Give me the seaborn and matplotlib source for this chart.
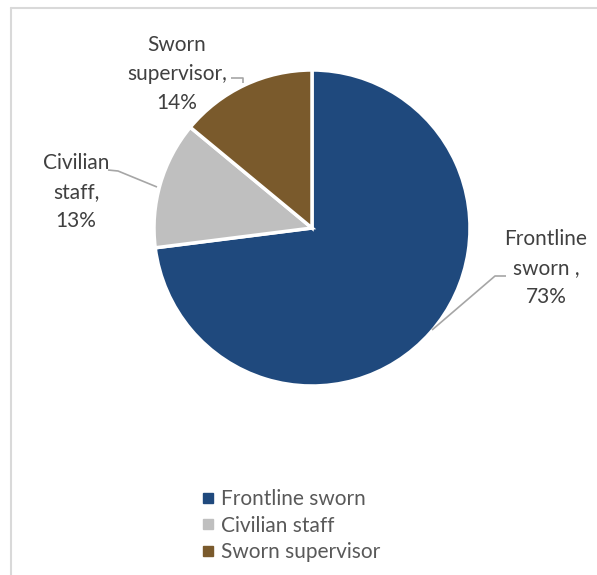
import matplotlib
matplotlib.use("Agg")
import matplotlib.pyplot as plt
from matplotlib.lines import Line2D
import seaborn as sns

categories = ["Frontline sworn", "Civilian staff", "Sworn supervisor"]
values = [73, 13, 14]
label_texts = ["Frontline\nsworn ,\n73%", "Civilian\nstaff,\n13%", "Sworn\nsupervisor,\n14%"]
colors = ["#1F497D", "#BFBFBF", "#7A5A2C"]

sns.set_theme(style="white")
plt.rcParams['font.family'] = ['Lato', 'DejaVu Sans']

W, H = 597, 575
fig = plt.figure(figsize=(W / 100, H / 100), dpi=100)
fig.patch.set_facecolor("white")

# pie geometry (pixels)
cx, cy, R = 312, 228, 158
a, b = 1.8, 1.4
ax = fig.add_axes([(cx - a * R) / W, (H - cy - b * R) / H, 2 * a * R / W, 2 * b * R / H])

wedges, _ = ax.pie(values, colors=sns.color_palette(colors), startangle=90, counterclock=False,
                   radius=1.0, wedgeprops=dict(edgecolor="white", linewidth=2.5))
ax.set_xlim(-a, a)
ax.set_ylim(-b, b)
ax.set_aspect("equal")
ax.axis("off")

def d(px, py):
    return ((px - cx) / R, (cy - py) / R)

txt_color = "#404040"
fs = 15
# label positions (pixel centers)
pos = [(546, 268), (76, 192), (177, 74)]
for t, (px, py) in zip(label_texts, pos):
    x, y = d(px, py)
    ax.text(x, y, t, ha="center", va="center", fontsize=fs, color=txt_color, linespacing=1.55)

lc = "#A6A6A6"
leaders = [
    [(506, 276), (495, 276), (432, 330)],
    [(108, 170), (118, 171), (157, 187)],
    [(231, 78), (243, 78), (243, 83)],
]
for pts in leaders:
    xs, ys = zip(*[d(*p) for p in pts])
    ax.plot(xs, ys, color=lc, lw=1.2, solid_capstyle="butt", clip_on=False)

# border (top and left)
fig.add_artist(Line2D([11 / W, 1.0], [1 - 7.5 / H, 1 - 7.5 / H], color="#D9D9D9", lw=1.5))
fig.add_artist(Line2D([11 / W, 11 / W], [0, 1 - 7.5 / H], color="#D9D9D9", lw=1.5))

handles = [Line2D([0], [0], marker="s", linestyle="none", markersize=7,
                  markerfacecolor=c, markeredgecolor=c) for c in colors]
leg = fig.legend(handles, categories, loc="upper left", bbox_to_anchor=(191 / W, 1 - 479 / H),
                 frameon=False, fontsize=fs, handlelength=0.6, handletextpad=0.35,
                 labelspacing=0.3, borderpad=0)
for t in leg.get_texts():
    t.set_color("#595959")

fig.savefig("out.png", dpi=100, facecolor="white")
